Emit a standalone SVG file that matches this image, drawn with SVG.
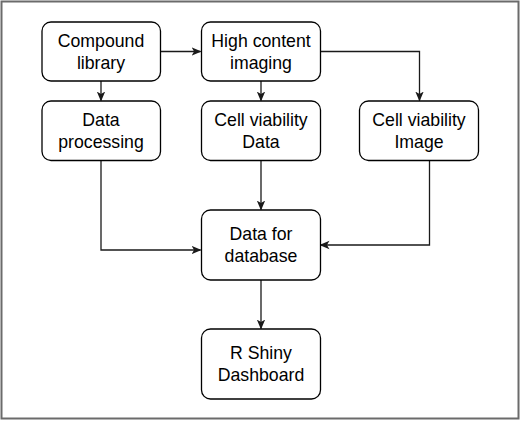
<svg xmlns="http://www.w3.org/2000/svg" width="520" height="421" viewBox="0 0 520 421">
<style>
.box{fill:#fff;stroke:#000;stroke-width:1.3}
.lbl{font-family:"Liberation Sans",Arial,sans-serif;font-size:17.7px;fill:#000;text-anchor:middle}
.edge{fill:none;stroke:#1a1a1a;stroke-width:1.3}
</style>
<defs>
<marker id="arr" viewBox="0 0 10 10" refX="9" refY="5" markerWidth="10" markerHeight="10" markerUnits="userSpaceOnUse" orient="auto">
<path d="M0,0.8 L10,5 L0,9.2 L2.6,5 Z" fill="#1a1a1a"/>
</marker>
</defs>
<rect x="1.5" y="1.5" width="517" height="417" fill="#fff" stroke="#6b6b6b" stroke-width="2"/>
<g id="connectors">
<path class="edge" d="M160.5,51.5 H200.5" marker-end="url(#arr)"/>
<path class="edge" d="M101,81 V100.5" marker-end="url(#arr)"/>
<path class="edge" d="M261,81 V100.5" marker-end="url(#arr)"/>
<path class="edge" d="M320.5,51.5 H419.5 V100.5" marker-end="url(#arr)"/>
<path class="edge" d="M101,160.5 V250 H200.5" marker-end="url(#arr)"/>
<path class="edge" d="M261,160.5 V209.5" marker-end="url(#arr)"/>
<path class="edge" d="M429.5,160.5 V245 H320.5" marker-end="url(#arr)"/>
<path class="edge" d="M261,280 V328.5" marker-end="url(#arr)"/>
</g>
<g id="compound-library">
<rect class="box" x="42" y="22" width="118.5" height="59" rx="9"/>
<text class="lbl" x="101" y="46.5">Compound</text>
<text class="lbl" x="101" y="68.5">library</text>
</g>
<g id="high-content-imaging">
<rect class="box" x="201.5" y="22" width="119" height="59" rx="9"/>
<text class="lbl" x="261" y="46.5">High content</text>
<text class="lbl" x="261" y="68.5">imaging</text>
</g>
<g id="data-processing">
<rect class="box" x="42" y="101" width="118.5" height="59.5" rx="9"/>
<text class="lbl" x="101" y="125.5">Data</text>
<text class="lbl" x="101" y="147.5">processing</text>
</g>
<g id="cell-viability-data">
<rect class="box" x="201.5" y="101" width="119" height="59.5" rx="9"/>
<text class="lbl" x="261" y="125.5">Cell viability</text>
<text class="lbl" x="261" y="147.5">Data</text>
</g>
<g id="cell-viability-image">
<rect class="box" x="359.5" y="101" width="119" height="59.5" rx="9"/>
<text class="lbl" x="419" y="125.5">Cell viability</text>
<text class="lbl" x="419" y="147.5">Image</text>
</g>
<g id="data-for-database">
<rect class="box" x="201.5" y="210" width="119" height="70" rx="9"/>
<text class="lbl" x="261" y="240">Data for</text>
<text class="lbl" x="261" y="262">database</text>
</g>
<g id="r-shiny-dashboard">
<rect class="box" x="201.5" y="329" width="119" height="70" rx="9"/>
<text class="lbl" x="261" y="359">R Shiny</text>
<text class="lbl" x="261" y="381">Dashboard</text>
</g>
</svg>
